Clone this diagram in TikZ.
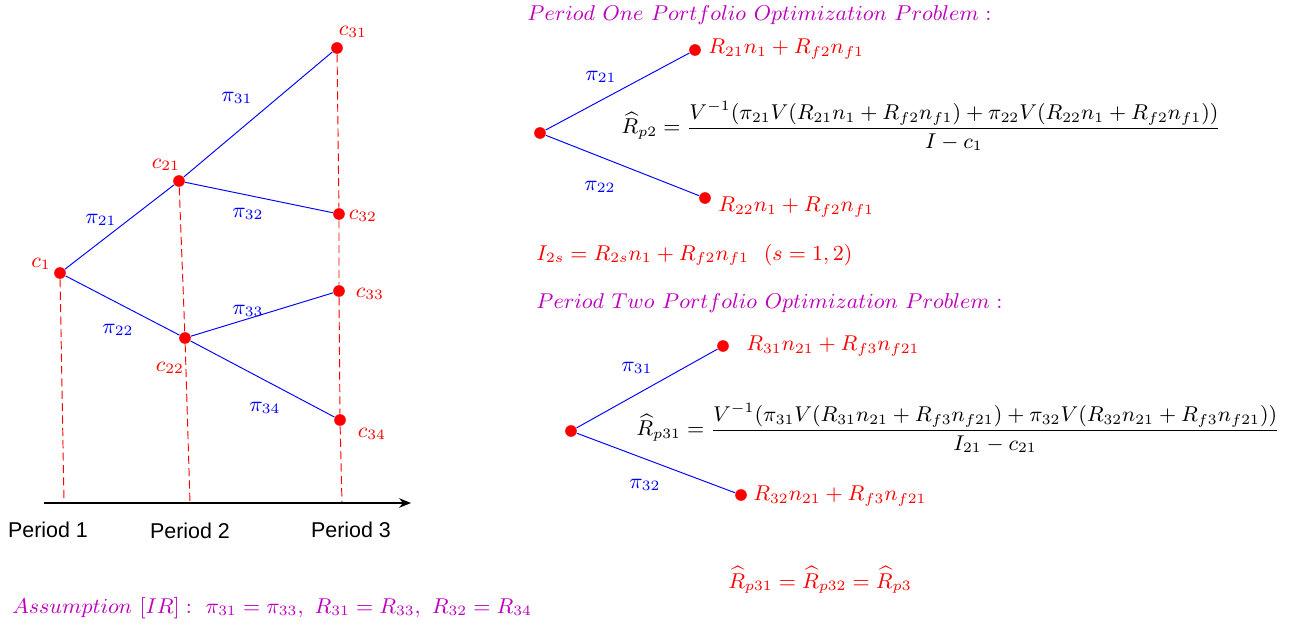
\documentclass[tikz,border=0pt]{standalone}
\usepackage{fontspec}
\newfontfamily\arialfont{Liberation Sans}
\usetikzlibrary{arrows.meta}
\definecolor{tred}{RGB}{255,0,0}
\definecolor{tblue}{RGB}{0,0,255}
\definecolor{tmag}{RGB}{190,0,190}
\tikzset{
  dot/.style={circle,fill=tred,inner sep=0pt,minimum size=4.9pt},
  edge/.style={tblue,line width=0.4pt},
  guide/.style={tred,line width=0.4pt,dash pattern=on 3.4pt off 1.8pt},
  clab/.style={text=tred,inner sep=0pt},
  plab/.style={text=tblue,inner sep=0pt},
  rlab/.style={text=tred,inner sep=0pt,anchor=west},
  title/.style={text=tmag,inner sep=0pt,anchor=west,font=\fontsize{9.4}{11}\selectfont},
  eqn/.style={text=black,inner sep=0pt,anchor=west},
  period/.style={inner sep=0pt,font=\arialfont\fontsize{9}{10}\selectfont}
}
\begin{document}
\begin{tikzpicture}[x=0.42pt,y=-0.42pt,font=\fontsize{9.1}{11}\selectfont]
\useasboundingbox (0,0) rectangle (1289,627);
% left tree
\node[dot] (c1) at (60,273) {};
\node[dot] (c21) at (179,181) {};
\node[dot] (c31) at (337,48) {};
\node[dot] (c32) at (339,214) {};
\node[dot] (c33) at (339,291) {};
\node[dot] (c22) at (185,338) {};
\node[dot] (c34) at (340,420) {};
\coordinate (b1) at (64,503);
\coordinate (b2) at (190,503);
\coordinate (b3) at (342,503);
\draw[guide] (c1) -- (b1);
\draw[guide] (c21) -- (c22) -- (b2);
\draw[guide] (c31) -- (c32) -- (c33) -- (c34) -- (b3);
\draw[edge] (c1) -- (c21);
\draw[edge] (c21) -- (c31);
\draw[edge] (c21) -- (c32);
\draw[edge] (c1) -- (c22);
\draw[edge] (c22) -- (c33);
\draw[edge] (c22) -- (c34);
\coordinate (ax0) at (44,503);
\coordinate (ax1) at (411,503);
\draw[-{Stealth[length=5pt,width=4pt]},line width=0.5pt] (ax0) -- (ax1);
\node[period] (p1) at (48,530) {Period 1};
\node[period] (p2) at (190,531) {Period 2};
\node[period] (p3) at (351,530) {Period 3};
\node[clab] (lc1) at (41,264) {$c_1$};
\node[clab] (lc21) at (166,165) {$c_{21}$};
\node[clab] (lc31) at (353,32) {$c_{31}$};
\node[clab] (lc32) at (363,216) {$c_{32}$};
\node[clab] (lc33) at (370,294) {$c_{33}$};
\node[clab] (lc22) at (170,368) {$c_{22}$};
\node[clab] (lc34) at (372,434) {$c_{34}$};
\node[plab] (l31) at (237,98) {$\pi_{31}$};
\node[plab] (l21) at (101,220) {$\pi_{21}$};
\node[plab] (l32) at (248,214) {$\pi_{32}$};
\node[plab] (l33) at (248,311) {$\pi_{33}$};
\node[plab] (l22) at (118,330) {$\pi_{22}$};
\node[plab] (l34) at (265,408) {$\pi_{34}$};
% period one
\node[title] (t1) at (527,15) {$Period\ One\ Portfolio\ Optimization\ Problem:$};
\node[dot] (r0) at (540,133) {};
\node[dot] (r1) at (695,50) {};
\node[dot] (r2) at (705,198) {};
\draw[edge] (r0) -- (r1);
\draw[edge] (r0) -- (r2);
\node[rlab] (rl1) at (708,49) {$R_{21}n_1+R_{f2}n_{f1}$};
\node[rlab] (rl2) at (718,207) {$R_{22}n_1+R_{f2}n_{f1}$};
\node[plab] (q21) at (601,77) {$\pi_{21}$};
\node[plab] (q22) at (600,187) {$\pi_{22}$};
\node[eqn] (e1) at (621,126) {$\displaystyle \widehat{R}_{p2}=\frac{V^{-1}(\pi_{21}V(R_{21}n_1+R_{f2}n_{f1})+\pi_{22}V(R_{22}n_1+R_{f2}n_{f1}))}{I-c_1}$};
\node[rlab] (i2s) at (536,255) {$I_{2s}=R_{2s}n_1+R_{f2}n_{f1}\ \ (s=1,2)$};
% period two
\node[title] (t2) at (536,303) {$Period\ Two\ Portfolio\ Optimization\ Problem:$};
\node[dot] (s0) at (571,431) {};
\node[dot] (s1) at (723,346) {};
\node[dot] (s2) at (741,495) {};
\draw[edge] (s0) -- (s1);
\draw[edge] (s0) -- (s2);
\node[rlab] (sl1) at (746,346) {$R_{31}n_{21}+R_{f3}n_{f21}$};
\node[rlab] (sl2) at (753,496) {$R_{32}n_{21}+R_{f3}n_{f21}$};
\node[plab] (q31) at (637,368) {$\pi_{31}$};
\node[plab] (q32) at (645,485) {$\pi_{32}$};
\node[eqn] (e2) at (636,428) {$\displaystyle \widehat{R}_{p31}=\frac{V^{-1}(\pi_{31}V(R_{31}n_{21}+R_{f3}n_{f21})+\pi_{32}V(R_{32}n_{21}+R_{f3}n_{f21}))}{I_{21}-c_{21}}$};
\node[clab] (eq3) at (820,580) {$\widehat{R}_{p31}=\widehat{R}_{p32}=\widehat{R}_{p3}$};
\node[title,font=\fontsize{9.1}{11}\selectfont] (as) at (12,608) {$Assumption\ [IR]:\ \pi_{31}=\pi_{33},\ R_{31}=R_{33},\ R_{32}=R_{34}$};
\end{tikzpicture}
\end{document}
